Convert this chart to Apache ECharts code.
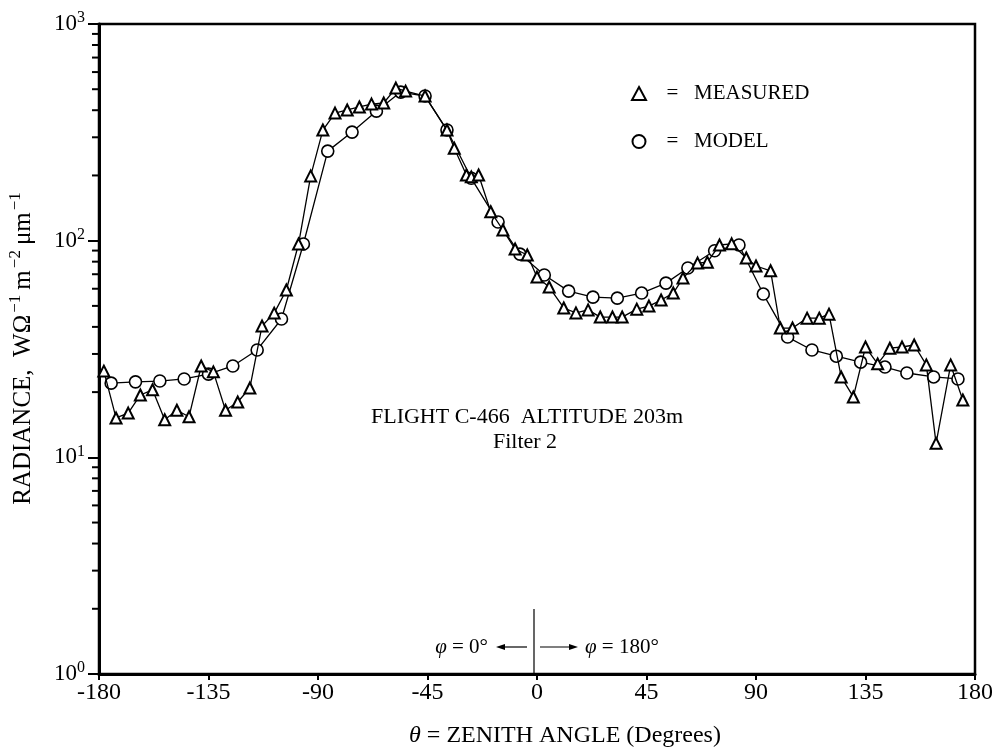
<!DOCTYPE html>
<html><head><meta charset="utf-8">
<script src="https://cdn.jsdelivr.net/npm/echarts@6/dist/echarts.min.js"></script>
<style>html,body{margin:0;padding:0;background:#fff}#c{width:992px;height:753px}</style>
</head><body><div id="c"></div>
<script>
// Zenith angle (degrees) and radiance values
const measuredX = [-178,-173,-168,-163,-158,-153,-148,-143,-138,-133,-128,-123,-118,-113,-108,-103,-98,-93,-88,-83,-78,-73,-68,-63,-58,-54,-46,-37,-34,-29,-27,-24,-19,-14,-9,-4,0,5,11,16,21,26,31,35,41,46,51,56,60,66,70,75,80,86,90,96,100,105,111,116,120,125,130,135,140,145,150,155,160,164,170,175];
const measuredY = [25.0,15.2,16.0,19.4,20.5,14.9,16.5,15.4,26.4,24.8,16.5,18.0,20.9,40.4,46.3,59.2,96.5,199,324,388,401,414,427,432,506,490,465,324,267,201,197,201,136,112,91.5,85.9,67.9,61.1,48.9,46.4,47.9,44.4,44.4,44.4,48.3,49.9,53.2,57.3,67.2,78.8,79.6,95.5,96.7,83.2,76.4,72.6,39.5,39.5,43.9,43.9,45.8,23.5,19.0,32.3,27.0,31.9,32.3,33.0,26.7,11.6,26.7,18.4];
const modelX = [-175,-165,-155,-145,-135,-125,-115,-105,-96,-86,-76,-66,-56,-46,-37,-27,-16,-7,3,13,23,33,43,53,62,73,83,93,103,113,123,133,143,152,163,173];
const modelY = [22.0,22.3,22.5,23.0,24.2,26.4,31.3,43.5,96.5,259,317,396,485,465,324,194,122,86.7,69.4,58.5,54.9,54.3,57.3,63.7,74.8,89.8,95.5,56.7,35.9,31.3,29.3,27.5,26.1,24.5,23.5,23.0];
const yMinorTicks = [2,3,4,5,6,7,8,9,20,30,40,50,60,70,80,90,200,300,400,500,600,700,800,900];
const seriesNames = ['MEASURED','MODEL'];

const FONT = 'Liberation Serif';
const chart = echarts.init(document.getElementById('c'), null, {renderer:'canvas'});
const zip = (xs, ys) => xs.map((x, i) => [x, ys[i]]);
const X0 = 534;

const option = {
  animation: false,
  backgroundColor: '#fff',
  grid: {left: 99, right: 17, top: 24, bottom: 79, containLabel: false, outerBoundsMode: 'none',
         show: true, borderColor: '#000', borderWidth: 2.5, backgroundColor: 'transparent'},
  legend: {
    orient: 'vertical', left: 626, top: 78, itemWidth: 14, itemHeight: 13, itemGap: 27,
    data: [{name: seriesNames[0], icon: 'triangle'}, {name: seriesNames[1], icon: 'circle'}],
    formatter: n => '{e|=}{n|' + n + '}',
    textStyle: {fontFamily: FONT, fontSize: 21, color: '#000',
      rich: {e: {fontFamily: FONT, fontSize: 21, width: 43, align: 'center', color: '#000'},
             n: {fontFamily: FONT, fontSize: 21, color: '#000'}}}
  },
  xAxis: {
    type: 'value', min: -180, max: 180, interval: 45,
    splitLine: {show: false},
    axisLine: {onZero: false, lineStyle: {color: '#000', width: 3}},
    axisTick: {inside: false, length: 6, lineStyle: {color: '#000', width: 2}},
    axisLabel: {fontFamily: FONT, fontSize: 24, color: '#000', margin: 7},
    name: '{i|θ}{n| = ZENITH ANGLE (Degrees)}', nameLocation: 'middle', nameGap: 50,
    nameTextStyle: {fontFamily: FONT, fontSize: 24, color: '#000', padding: [0, 0, 0, 56],
      rich: {i: {fontFamily: FONT, fontSize: 24, fontStyle: 'italic', color: '#000'},
             n: {fontFamily: FONT, fontSize: 24, color: '#000'}}}
  },
  yAxis: {
    type: 'log', logBase: 10, min: 1, max: 1000,
    splitLine: {show: false},
    axisLine: {onZero: false, lineStyle: {color: '#000', width: 3}},
    axisTick: {inside: false, length: 11, lineStyle: {color: '#000', width: 2}},
    axisLabel: {margin: 14, color: '#000',
      formatter: v => '{b|10}{s|' + Math.round(Math.log10(v)) + '}',
      rich: {b: {fontFamily: FONT, fontSize: 23, lineHeight: 28, verticalAlign: 'middle', color: '#000'},
             s: {fontFamily: FONT, fontSize: 16, lineHeight: 16, verticalAlign: 'top', color: '#000'}}},
    name: '{n|RADIANCE,  WΩ}{s|−1}{n|m}{s|−2}{n|μm}{s|−1}', nameLocation: 'middle', nameGap: 60,
    nameTextStyle: {color: '#000',
      rich: {n: {fontFamily: FONT, fontSize: 25, lineHeight: 32, verticalAlign: 'middle', color: '#000', padding: [0, 0, 0, 3]},
             s: {fontFamily: FONT, fontSize: 17, lineHeight: 17, verticalAlign: 'top', color: '#000', padding: [0, 2, 0, 2]}}}
  },
  graphic: [
    {type: 'text', x: 527, y: 417, style: {text: 'FLIGHT C-466  ALTITUDE 203m', fontFamily: FONT, fontSize: 22, fill: '#000', align: 'center', verticalAlign: 'middle'}},
    {type: 'text', x: 525, y: 442, style: {text: 'Filter 2', fontFamily: FONT, fontSize: 22, fill: '#000', align: 'center', verticalAlign: 'middle'}},
    {type: 'line', shape: {x1: X0, y1: 609, x2: X0, y2: 674}, style: {stroke: '#000', lineWidth: 1.2}},
    {type: 'line', shape: {x1: X0 - 33, y1: 647, x2: X0 - 7, y2: 647}, style: {stroke: '#000', lineWidth: 1.2}},
    {type: 'polygon', shape: {points: [[X0 - 38, 647], [X0 - 29, 644], [X0 - 29, 650]]}, style: {fill: '#000'}},
    {type: 'line', shape: {x1: X0 + 6, y1: 647, x2: X0 + 39, y2: 647}, style: {stroke: '#000', lineWidth: 1.2}},
    {type: 'polygon', shape: {points: [[X0 + 44, 647], [X0 + 35, 644], [X0 + 35, 650]]}, style: {fill: '#000'}},
    {type: 'text', x: X0 - 46, y: 647, style: {text: '{i|φ}{n| = 0°}', align: 'right', verticalAlign: 'middle',
      rich: {i: {fontFamily: FONT, fontSize: 21, fontStyle: 'italic', fill: '#000'}, n: {fontFamily: FONT, fontSize: 21, fill: '#000'}}}},
    {type: 'text', x: X0 + 51, y: 647, style: {text: '{i|φ}{n| = 180°}', align: 'left', verticalAlign: 'middle',
      rich: {i: {fontFamily: FONT, fontSize: 21, fontStyle: 'italic', fill: '#000'}, n: {fontFamily: FONT, fontSize: 21, fill: '#000'}}}}
  ],
  series: [
    {
      name: 'minorTicks', type: 'custom', clip: false, silent: true, z: 5,
      data: yMinorTicks.map(v => [-180, v]),
      renderItem: (params, api) => {
        const p = api.coord([api.value(0), api.value(1)]);
        return {type: 'line', shape: {x1: p[0] - 7, y1: p[1], x2: p[0], y2: p[1]}, style: {stroke: '#000', lineWidth: 2}};
      }
    },
    {
      name: seriesNames[1], type: 'line', data: zip(modelX, modelY), z: 3,
      symbol: 'circle', symbolSize: 12,
      itemStyle: {color: '#fff', borderColor: '#000', borderWidth: 1.6},
      lineStyle: {color: '#000', width: 1.3}
    },
    {
      name: seriesNames[0], type: 'line', data: zip(measuredX, measuredY), z: 4,
      symbol: 'triangle', symbolSize: 11,
      itemStyle: {color: '#fff', borderColor: '#000', borderWidth: 2},
      lineStyle: {color: '#000', width: 1.3}
    }
  ]
};
chart.setOption(option);
</script>
</body></html>
